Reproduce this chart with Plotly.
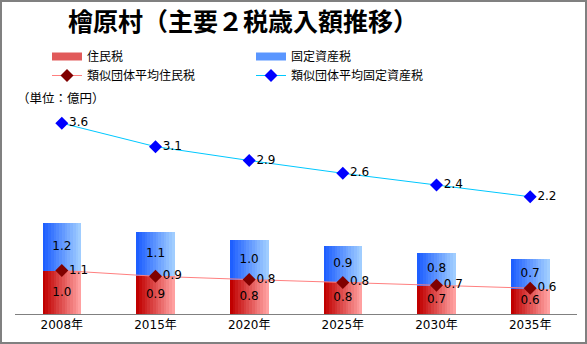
import plotly.graph_objects as go

# ---- data ----
years = ["2008年", "2015年", "2020年", "2025年", "2030年", "2035年"]
juminzei = [1.04, 0.93, 0.84, 0.77, 0.69, 0.62]          # 住民税
koteishisanzei = [1.18, 1.06, 0.96, 0.88, 0.80, 0.72]    # 固定資産税
ruiji_jumin = [1.06, 0.92, 0.84, 0.77, 0.70, 0.63]       # 類似団体平均住民税
ruiji_kotei = [3.58, 3.14, 2.88, 2.64, 2.42, 2.20]       # 類似団体平均固定資産税

W, H = 587, 344
L, R, T, B = 15, 10, 109, 30
pw, ph = W - L - R, H - T - B
FONT = "Noto Sans CJK JP"
NUMFONT = "DejaVu Sans, Noto Sans CJK JP"

def lerp(c1, c2, t):
    return "rgb(%d,%d,%d)" % tuple(round(a + (b - a) * t) for a, b in zip(c1, c2))

red_l, red_r = (192, 0, 0), (255, 160, 160)
blue_l, blue_r = (30, 95, 255), (160, 205, 255)

fig = go.Figure()
xs = list(range(len(years)))
bw = 0.41
N = 14
for i in range(N):
    t = i / (N - 1)
    fig.add_bar(x=xs, y=juminzei, width=bw / N * 1.05, offset=-bw / 2 + i * bw / N,
                marker=dict(color=lerp(red_l, red_r, t), line=dict(width=0)),
                showlegend=False, hoverinfo="skip")
    fig.add_bar(x=xs, y=koteishisanzei, base=juminzei, width=bw / N * 1.05,
                offset=-bw / 2 + i * bw / N,
                marker=dict(color=lerp(blue_l, blue_r, t), line=dict(width=0)),
                showlegend=False, hoverinfo="skip")

# legend proxies for bars (wide swatches)
fig.add_scatter(x=[None], y=[None], name="住民税", mode="lines",
                line=dict(color="rgb(225,90,90)", width=8), showlegend=True)
fig.add_scatter(x=[None], y=[None], name="固定資産税", mode="lines",
                line=dict(color="rgb(90,150,255)", width=8), showlegend=True)

# bar labels
fig.add_scatter(x=xs, y=[v / 2 for v in juminzei], mode="text",
                text=[f"{v:.1f}" for v in juminzei], showlegend=False,
                textfont=dict(size=12, color="black", family=NUMFONT), hoverinfo="skip")
fig.add_scatter(x=xs, y=[a + b / 2 for a, b in zip(juminzei, koteishisanzei)], mode="text",
                text=[f"{v:.1f}" for v in koteishisanzei], showlegend=False,
                textfont=dict(size=12, color="black", family=NUMFONT), hoverinfo="skip")

fig.add_scatter(x=xs, y=ruiji_jumin, mode="lines+markers+text", name="類似団体平均住民税",
                line=dict(color="#ff7f7f", width=1),
                marker=dict(symbol="diamond", size=10, color="#800000"),
                text=[f"{v:.1f}" for v in ruiji_jumin], textposition="middle right",
                textfont=dict(size=12, color="black", family=NUMFONT))
fig.add_scatter(x=xs, y=ruiji_kotei, mode="lines+markers+text", name="類似団体平均固定資産税",
                yaxis="y2",
                line=dict(color="#00c8ff", width=1),
                marker=dict(symbol="diamond", size=10, color="#0000ff"),
                text=[f"{v:.1f}" for v in ruiji_kotei], textposition="middle right",
                textfont=dict(size=12, color="black", family=NUMFONT))

def px_x(p):
    return (p - L) / pw

def px_y(p):
    return (H - B - p) / ph

fig.update_layout(
    width=W, height=H, margin=dict(l=L, r=R, t=T, b=B),
    paper_bgcolor="white", plot_bgcolor="white",
    barmode="overlay", bargap=0,
    font=dict(family=FONT, size=12, color="black"),
    xaxis=dict(range=[-0.5, 5.5], tickvals=xs, ticktext=years, showgrid=False,
               zeroline=False, showline=True, linecolor="#808080", linewidth=1,
               ticks="", tickfont=dict(size=12, family=NUMFONT)),
    yaxis=dict(range=[0, ph / 41.0], visible=False, showgrid=False),
    yaxis2=dict(range=[0, ph / 53.3], overlaying="y", visible=False, showgrid=False),
    legend=dict(orientation="h", x=px_x(47), xanchor="left", y=px_y(42), yanchor="top",
                entrywidth=159, entrywidthmode="pixels", font=dict(size=12, family=FONT),
                bgcolor="rgba(0,0,0,0)", tracegroupgap=0),
    showlegend=True,
    annotations=[
        dict(text="<b>檜原村（主要２税歳入額推移）</b>", x=px_x(243), y=px_y(20),
             xref="paper", yref="paper", showarrow=False, xanchor="center", yanchor="middle",
             font=dict(size=25, family=FONT, color="black")),
        dict(text="（単位：億円）", x=px_x(15), y=px_y(98), xref="paper", yref="paper",
             showarrow=False, xanchor="left", yanchor="middle",
             font=dict(size=12.5, family=FONT, color="black")),
    ],
    shapes=[
        dict(type="rect", xref="paper", yref="paper", x0=px_x(1), x1=px_x(586),
             y0=px_y(343), y1=px_y(1), line=dict(color="#808080", width=2),
             fillcolor="rgba(0,0,0,0)", layer="below"),
    ],
)

fig.write_html("out.html")
